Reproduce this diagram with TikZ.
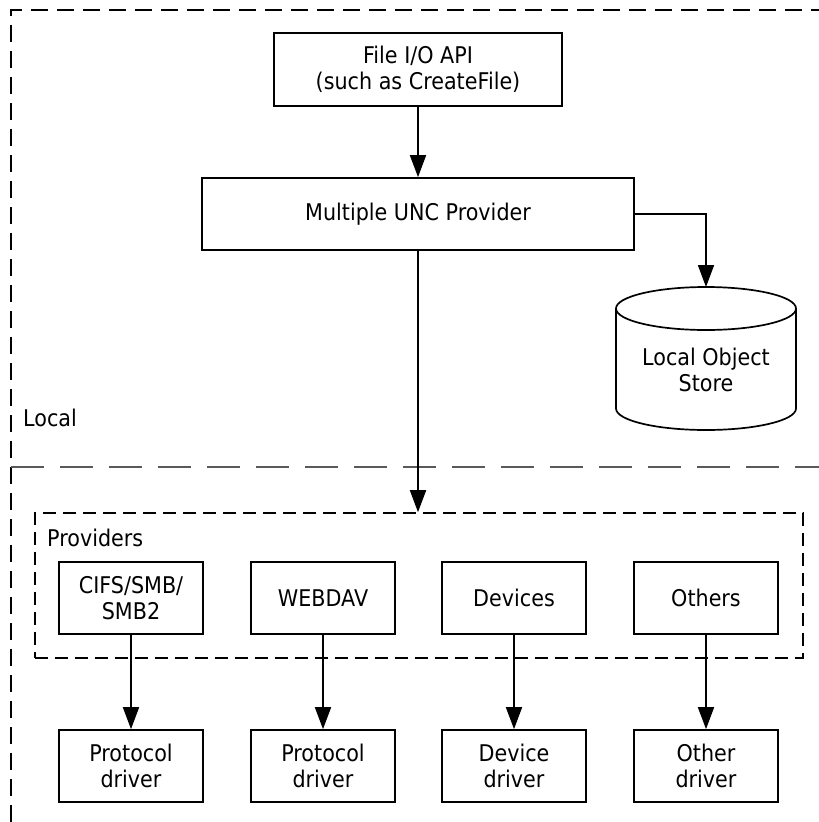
\documentclass[tikz,border=0pt]{standalone}
\usepackage{fontspec}
\setmainfont{DejaVu Sans}[FakeStretch=0.9]
\usetikzlibrary{arrows.meta}
\begin{document}
\begin{tikzpicture}[x=1pt,y=-1pt,
  every node/.style={font=\fontsize{23}{26}\selectfont},
  box/.style={draw,line width=1.7pt,align=center,inner sep=0pt},
  pbox/.style={box,minimum width=144pt,minimum height=72pt},
  arr/.style={line width=1.7pt,-{Triangle[length=22pt,width=16pt]}},
  outer/.style={line width=1.6pt,dash pattern=on 17pt off 9pt},
  sep/.style={line width=1.6pt,draw=black!65,dash pattern=on 33pt off 16pt},
  grp/.style={draw,line width=1.6pt,dash pattern=on 13pt off 7pt,inner sep=0pt}
]
\useasboundingbox (0,0) rectangle (819,822);
% outer region
\draw[outer] (11,822) -- (11,10) -- (819,10);
\draw[sep] (11,467) -- (819,467);
\node[anchor=west,inner sep=0pt] (local) at (23,418) {Local};

% top nodes
\node[box,minimum width=288pt,minimum height=73pt] (fio) at (418,69.5) {File I/O API\\(such as CreateFile)};
\node[box,minimum width=432pt,minimum height=72pt] (mup) at (418,214) {Multiple UNC Provider};

% cylinder
\coordinate (lstop) at (706,287);
\draw[line width=1.7pt,fill=white] (706,308.5) ellipse [x radius=90, y radius=21.5];
\draw[line width=1.7pt] (616,308.5) -- (616,408.5) arc[start angle=180,end angle=0,x radius=90,y radius=21.5] -- (796,308.5);
\node[align=center,inner sep=0pt] (los) at (706,370) {Local Object\\Store};

% providers group
\node[grp,minimum width=768pt,minimum height=145pt] (prov) at (419,585.5) {};
\node[anchor=west,inner sep=0pt] (provlbl) at (47,538) {Providers};

\node[pbox] (cifs) at (131,598) {CIFS/SMB/\\SMB2};
\node[pbox] (webdav) at (323,598) {WEBDAV};
\node[pbox] (dev) at (514,598) {Devices};
\node[pbox] (oth) at (706,598) {Others};

\node[pbox] (pd1) at (131,766) {Protocol\\driver};
\node[pbox] (pd2) at (323,766) {Protocol\\driver};
\node[pbox] (dd) at (514,766) {Device\\driver};
\node[pbox] (od) at (706,766) {Other\\driver};

% connectors
\draw[arr] (fio) -- (mup);
\draw[arr] (mup.east) -| (lstop);
\draw[arr] (mup.south) -- (mup.south |- prov.north);
\draw[arr] (cifs) -- (pd1);
\draw[arr] (webdav) -- (pd2);
\draw[arr] (dev) -- (dd);
\draw[arr] (oth) -- (od);
\end{tikzpicture}
\end{document}
